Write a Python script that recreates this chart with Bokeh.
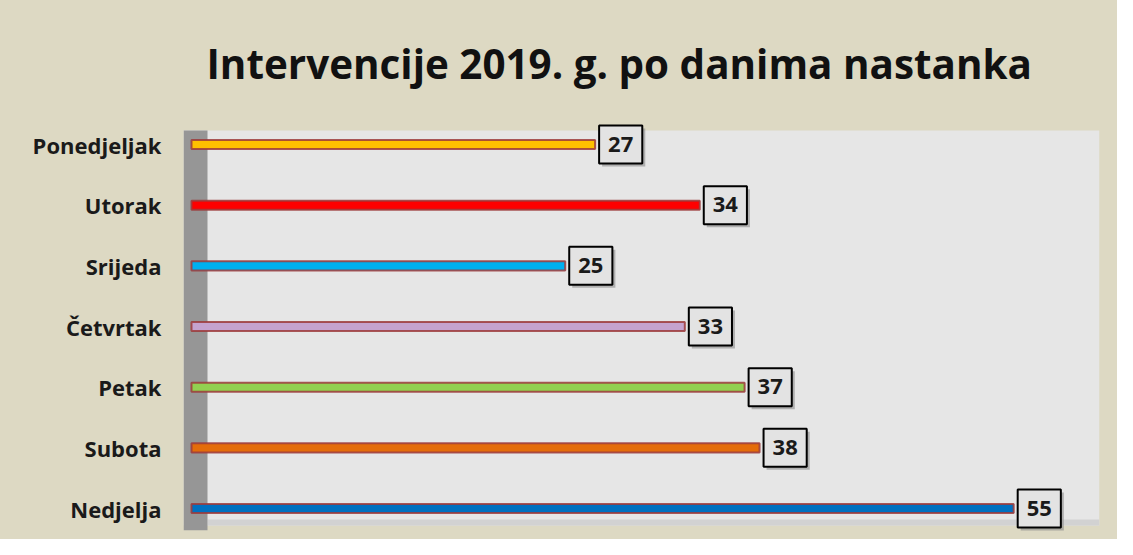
from bokeh.plotting import figure
from bokeh.models import Range1d, FixedTicker, Label, BoxAnnotation, ColumnDataSource
from bokeh.embed import file_html
from bokeh.resources import INLINE

days = ["Ponedjeljak", "Utorak", "Srijeda", "Četvrtak", "Petak", "Subota", "Nedjelja"]
counts = [27, 34, 25, 33, 37, 38, 55]
colors = ["#ffc000", "#ff0000", "#00b0f0", "#c5a3cf", "#92d050", "#e46c0a", "#0070c0"]
title_text = "Intervencije 2019. g. po danima nastanka"

BEIGE = "#ddd9c3"
pos = list(range(len(days)))
src = ColumnDataSource(dict(y=pos, right=counts, color=colors, day=days))

p = figure(width=1117, height=539, output_backend="svg", toolbar_location=None,
           x_range=Range1d(-0.535, 60.74), y_range=Range1d(6.412, -0.429),
           min_border_left=183, min_border_right=18, min_border_bottom=6, min_border_top=118)
p.styles = {"background-color": BEIGE}
p.border_fill_color = BEIGE
p.background_fill_color = BEIGE
p.outline_line_color = None
p.grid.visible = False
p.xaxis.visible = False

p.title.text = title_text
p.title.align = "left"
p.title.offset = 23
p.title.standoff = 56
p.title.text_font = "Open Sans"
p.title.text_font_style = "bold"
p.title.text_font_size = "40.4px"
p.title.text_color = "#111111"

yax = p.yaxis[0]
yax.ticker = FixedTicker(ticks=pos)
yax.major_label_overrides = {i: d for i, d in zip(pos, days)}
yax.axis_line_color = None
yax.major_tick_line_color = None
yax.minor_tick_line_color = None
yax.major_label_standoff = 16
yax.major_label_text_font = "Open Sans"
yax.major_label_text_font_style = "bold"
yax.major_label_text_font_size = "22px"
yax.major_label_text_color = "#1a1a1a"

# plot area, floor and left wall
p.add_layout(BoxAnnotation(top=-0.231, bottom=6.28, fill_color="#e6e6e6", fill_alpha=1.0,
                           line_color=None, level="underlay"))
p.add_layout(BoxAnnotation(left=1.07, top=6.18, bottom=6.28, fill_color="#d2d2d2", fill_alpha=1.0,
                           line_color=None, level="underlay"))
p.add_layout(BoxAnnotation(right=1.07, top=-0.231, bottom=6.36, fill_color="#969696", fill_alpha=1.0,
                           line_color=None, level="underlay"))

p.hbar(y="y", left=0, right="right", height=0.15, fill_color="color",
       line_color="#9c3b3b", line_alpha=0.85, line_width=2, source=src)

pad = dict(left=9, right=9, top=11, bottom=12)
for v, yy in zip(counts, pos):
    sh = Label(x=v, y=yy, text=str(v), x_offset=7, y_offset=-3, text_align="left",
               text_baseline="middle", text_font="Open Sans", text_font_style="bold",
               text_font_size="22px", text_color="#8a8a8a", padding=pad,
               background_fill_color="#8a8a8a", background_fill_alpha=0.6,
               border_line_color=None)
    p.add_layout(sh)
    lab = Label(x=v, y=yy, text=str(v), x_offset=4, text_align="left",
                text_baseline="middle", text_font="Open Sans", text_font_style="bold",
                text_font_size="22px", text_color="#1a1a1a", padding=pad,
                background_fill_color="#e3e3e3", background_fill_alpha=1.0,
                border_line_color="#000000", border_line_width=2)
    p.add_layout(lab)

open("out.html", "w").write(file_html(p, INLINE))
